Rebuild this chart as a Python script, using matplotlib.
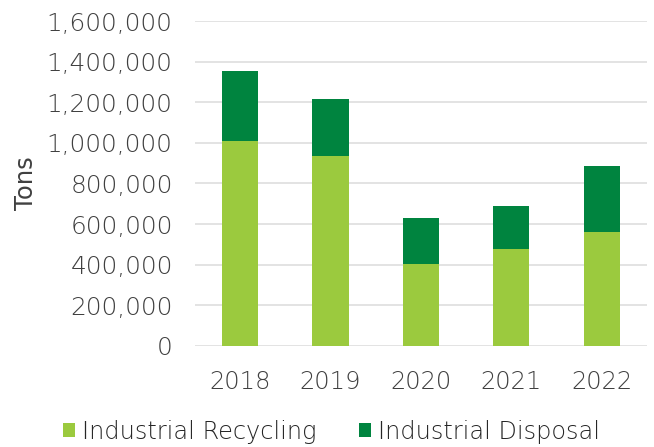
import numpy as np
import matplotlib.pyplot as plt
from matplotlib.ticker import FuncFormatter

# data
years = ['2018', '2019', '2020', '2021', '2022']
recycling = [1007000, 936000, 406000, 478000, 560000]
disposal = [348000, 281000, 226000, 212000, 326000]

plt.rcParams['font.family'] = ['DejaVu Sans']
plt.rcParams['font.weight'] = 'light'
txt = '#404040'

fig = plt.figure(figsize=(6.54, 4.47), dpi=100)
ax = fig.add_axes([0.298, 0.226, 0.691, 0.727])

x = np.arange(len(years))
ax.bar(x, recycling, width=0.4, color='#9BCA3E', label='Industrial Recycling', zorder=3)
ax.bar(x, disposal, width=0.4, bottom=recycling, color='#00843F',
       label='Industrial Disposal', zorder=3)

ax.set_xlim(-0.5, len(years) - 0.5)
ax.set_ylim(0, 1600000)
ax.set_yticks(np.arange(0, 1600001, 200000))
ax.yaxis.set_major_formatter(FuncFormatter(lambda v, p: f'{int(v):,}'))
ax.set_xticks(x)
ax.set_xticklabels(years)
ax.grid(axis='y', color='#DEDEDE', lw=1.2, zorder=0)
for s in ax.spines.values():
    s.set_visible(False)
ax.tick_params(axis='both', length=0, colors=txt, labelcolor=txt)
ax.tick_params(axis='y', pad=16, labelsize=17.8)
ax.tick_params(axis='x', pad=17, labelsize=17.4)
ax.set_ylabel('Tons', fontsize=17.5, color=txt, labelpad=6)

fig.legend(loc='center', bbox_to_anchor=(0.507, 0.034), ncol=2, frameon=False,
           fontsize=17.3, handlelength=0.5, handleheight=0.5, handletextpad=0.3,
           columnspacing=1.75, labelcolor='#262626')

fig.savefig('out.png', dpi=100)
